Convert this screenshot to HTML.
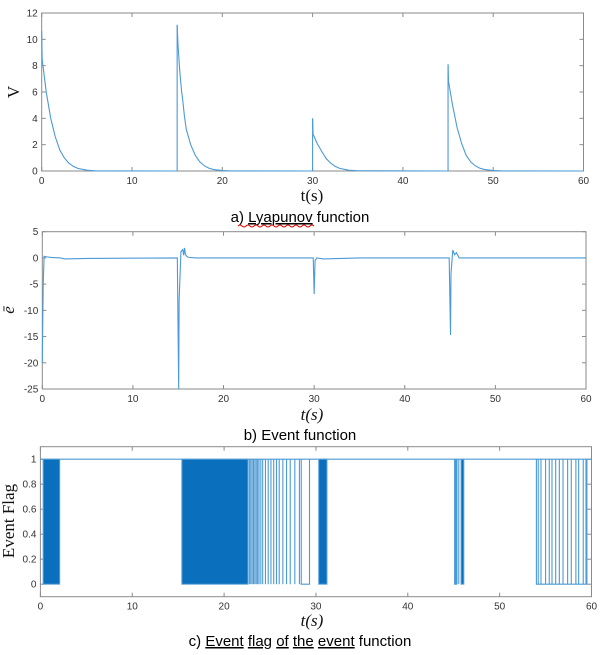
<!DOCTYPE html>
<html><head><meta charset="utf-8"><style>
body{margin:0;background:#fff;}
svg{display:block;}
.tk{font-family:"Liberation Sans",sans-serif;font-size:10px;fill:#333;}
.cap{font-family:"Liberation Sans",sans-serif;font-size:15px;fill:#000;}
.lab{font-family:"Liberation Serif",serif;font-size:17px;fill:#111;}
</style></head><body>
<svg id="fig" width="601" height="655" viewBox="0 0 601 655" xmlns="http://www.w3.org/2000/svg">
<text class="lab" x="312" y="201" text-anchor="middle">t(s)</text>
<text class="cap" x="300" y="222" text-anchor="middle">a) <tspan text-decoration="underline">Lyapunov</tspan> function</text>
<path d="M238 226 q2 -2 4 0 t4 0 t4 0 t4 0 t4 0 t4 0 t4 0 t4 0 t4 0 t4 0 t4 0 t4 0 t4 0 t4 0 t4 0 t4 0 t4 0 t4 0 t4 0" stroke="#d00" fill="none" stroke-width="1"/>
<text class="lab" x="312" y="420" text-anchor="middle" font-style="italic">t(s)</text>
<text class="cap" x="300" y="440" text-anchor="middle">b) Event function</text>
<text class="lab" x="312" y="626" text-anchor="middle" font-style="italic">t(s)</text>
<text class="cap" x="300" y="646" text-anchor="middle">c) <tspan text-decoration="underline">Event</tspan> <tspan text-decoration="underline">flag</tspan> <tspan text-decoration="underline">of</tspan> <tspan text-decoration="underline">the</tspan> <tspan text-decoration="underline">event</tspan> function</text>
</svg>
<script>
// ---- data ----
const xTicks=[0,10,20,30,40,50,60];
const vTicks=[0,2,4,6,8,10,12];
const eTicks=[5,0,-5,-10,-15,-20,-25];
const fTicks=[0,0.2,0.4,0.6,0.8,1];
// Lyapunov V segments (time, value)
const vT1=[0,0.05,0.5,1,1.5,2,2.5,3,3.5,4,5,6,15];
const vV1=[10.6,8.5,6,4,2.6,1.6,1.0,0.6,0.35,0.2,0.06,0.01,0];
const vT2=[15,15.1,15.3,15.5,15.6,15.8,16,16.5,17,17.5,18,18.5,19,20,21,30];
const vV2=[11.1,9.5,7.5,6,5.5,4.2,3.2,2,1.2,0.7,0.4,0.22,0.12,0.03,0.01,0];
const vT3=[30,30.05,30.5,31,31.5,32,32.5,33,34,35,45];
const vV3=[4.0,2.8,2.1,1.5,0.95,0.6,0.35,0.2,0.06,0.02,0];
const vT4=[45,45.05,45.5,46,46.5,47,47.5,48,48.5,49,50,51,60];
const vV4=[8.1,6.8,5.0,3.3,2.1,1.2,0.7,0.4,0.22,0.12,0.03,0.01,0];
// event function e-bar
const eT=[0,0.1,0.2,0.5,1,2,2.5,5,14.9,15.05,15.1,15.3,15.5,15.6,15.7,15.8,16,16.2,17,29.9,30,30.1,30.3,31,35,44.9,45.05,45.1,45.3,45.5,45.7,46,46.5,60];
const eV=[-20,-5,0.3,0.2,0.1,0,-0.2,-0.1,0,-25,-8,1.2,1.6,0.5,1.9,0.6,0.2,0.1,0,0,-6.9,-0.5,0,-0.2,0,0,-14.7,-3,1.5,0.6,1,0,0,0];
// event flag: dense bands (start,end) and sparse toggle times
const denseStart=[0.3,15.4,30.3,45.8];
const denseEnd=[2.1,22.6,31.2,46.1];
const sparse=[22.75,22.9,23.05,23.2,23.35,23.5,23.65,23.8,24.0,24.2,24.5,24.8,25.1,25.4,25.7,26.0,26.4,26.8,27.2,27.7,28.2,45.2,45.35,45.55,54.2,54.5,55.0,55.4,55.7,56.1,56.5,56.9,57.4,57.8,58.3,58.6,59.1,59.4];
const zeroStart=[28.4,45.1,54.0];
const zeroEnd=[29.3,45.3,59.5];

const NS='http://www.w3.org/2000/svg';
const svg=document.getElementById('fig');
function el(tag,attrs,parent){const e=document.createElementNS(NS,tag);for(const k in attrs)e.setAttribute(k,attrs[k]);(parent||svg).appendChild(e);return e;}
function axes(x0,x1,y0,y1,xmin,xmax,ymin,ymax){return{sx:v=>x0+(v-xmin)/(xmax-xmin)*(x1-x0),sy:v=>y1-(v-ymin)/(ymax-ymin)*(y1-y0),x0,x1,y0,y1};}
function frame(a,yt,name){
  const g=el('g',{});
  
  
  el('rect',{x:a.x0,y:a.y0,width:a.x1-a.x0,height:a.y1-a.y0,fill:'#fff',stroke:'#8a8a8a','stroke-width':1},g);
  xTicks.forEach(t=>{const x=a.sx(t);
    el('line',{x1:x,x2:x,y1:a.y1,y2:a.y1-4,stroke:'#8a8a8a'},g);
    el('line',{x1:x,x2:x,y1:a.y0,y2:a.y0+4,stroke:'#8a8a8a'},g);
    const tx=el('text',{x:x,y:a.y1+13,'text-anchor':'middle',class:'tk'},g);tx.textContent=t;
    
    });
  yt.forEach(t=>{const y=a.sy(t);
    el('line',{x1:a.x0,x2:a.x0+4,y1:y,y2:y,stroke:'#8a8a8a'},g);
    el('line',{x1:a.x1,x2:a.x1-4,y1:y,y2:y,stroke:'#8a8a8a'},g);
    const tx=el('text',{x:a.x0-4,y:y+3.5,'text-anchor':'end',class:'tk'},g);tx.textContent=t;
    
    });
  return g;
}
function line(a,ts,vs,name){
  const d=ts.map((t,i)=>(i?'L':'M')+a.sx(t).toFixed(2)+' '+a.sy(vs[i]).toFixed(2)).join(' ');
  const p=el('path',{d:d,fill:'none',stroke:'#4b9ad6','stroke-width':1.1});
  
  
}
// plot a
const A=axes(41.7,583.5,13,171,0,60,0,12);
frame(A,vTicks,'lyapunov');
const yl=el('text',{x:19,y:92,class:'lab','text-anchor':'middle',transform:'rotate(-90 19 92)'});yl.textContent='V';


[[vT1,vV1],[vT2,vV2],[vT3,vV3],[vT4,vV4]].forEach((s,i)=>{
  if(i>0)line(A,[s[0][0],s[0][0]],[0,s[1][0]],'v-jump-'+i);
  line(A,s[0],s[1],'v-segment-'+(i+1));
});
// plot b
const B=axes(42.3,586,231.7,389,0,60,-25,5);
frame(B,eTicks,'event');
const yl2=el('text',{x:14,y:310,class:'lab','text-anchor':'middle','font-style':'italic',transform:'rotate(-90 14 310)'});yl2.textContent='ē';


line(B,eT,eV,'event-function-line');
// plot c
const C=axes(40.4,591.5,446.7,596.7,0,60,-0.1,1.1);
frame(C,fTicks,'flag');
const yl3=el('text',{x:14,y:521,class:'lab','text-anchor':'middle',transform:'rotate(-90 14 521)'});yl3.textContent='Event Flag';


line(C,[0,60],[1,1],'flag-high-line');
zeroStart.forEach((s,i)=>{line(C,[s,s,zeroEnd[i],zeroEnd[i]],[1,0,0,1],'flag-zero-interval');});
denseStart.forEach((s,i)=>{
  const r=el('rect',{x:C.sx(s),y:C.sy(1),width:C.sx(denseEnd[i])-C.sx(s),height:C.sy(0)-C.sy(1),fill:'#0a6fbc',stroke:'#5aa2d8','stroke-width':1});
  
  
});
sparse.forEach(t=>{line(C,[t,t],[0,1],'flag-toggle');});
</script>
</body></html>
